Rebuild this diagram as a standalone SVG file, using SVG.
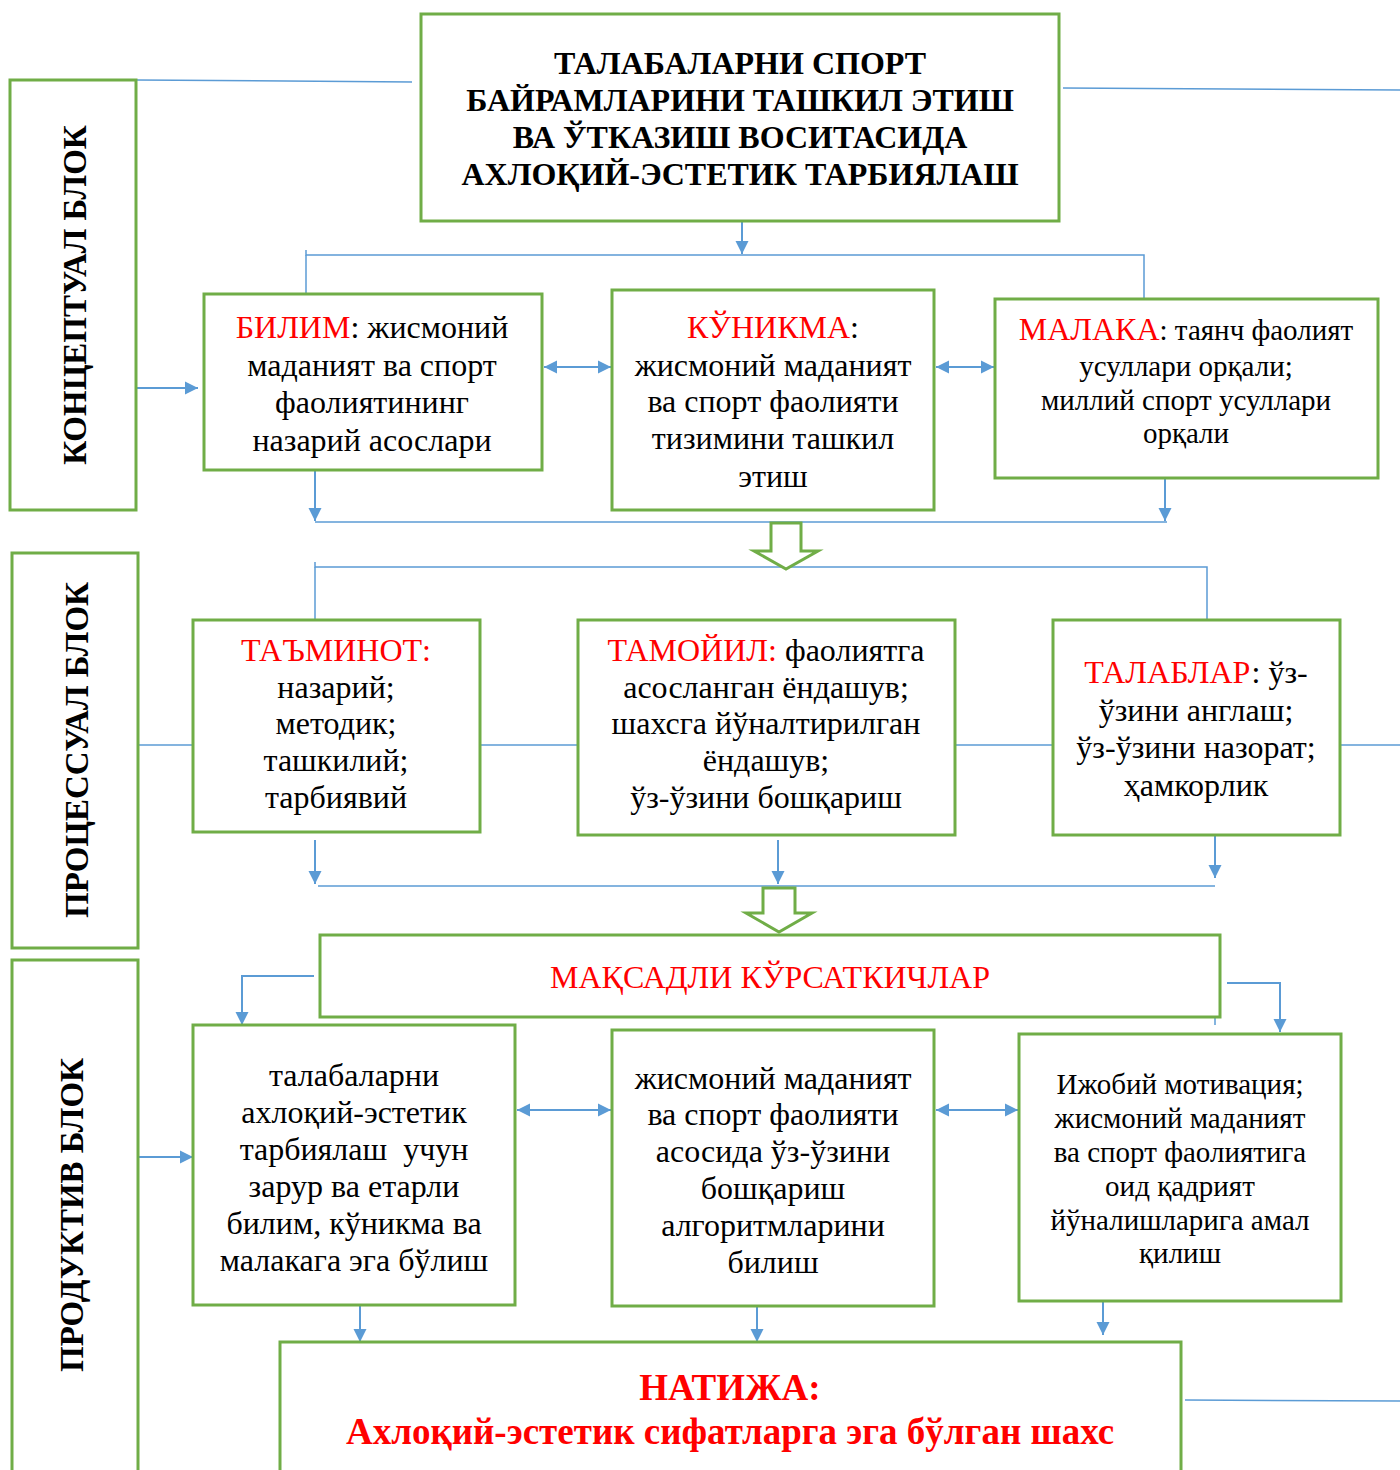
<svg xmlns="http://www.w3.org/2000/svg" width="1400" height="1470" viewBox="0 0 1400 1470">
<style>
.box{fill:#fff;stroke:#70AD47;stroke-width:3}
.ln{fill:none;stroke:#5B9BD5;stroke-width:1.5}
.ar{fill:none;stroke:#5B9BD5;stroke-width:2}
.hol{fill:#fff;stroke:#70AD47;stroke-width:3;stroke-linejoin:miter}
text{font-family:"Liberation Serif","Times New Roman",serif;fill:#000;text-anchor:middle}
.t{font-size:32px}
.s{font-size:29px}
.b{font-weight:bold}
.r{fill:#FF0000}
.v{font-size:33px;font-weight:bold}
</style>
<defs>
<marker id="ah" viewBox="0 0 10 10" refX="10" refY="5" markerWidth="13" markerHeight="14" markerUnits="userSpaceOnUse" orient="auto-start-reverse">
<path d="M0,0 L10,5 L0,10 z" fill="#5B9BD5"/>
</marker>
</defs>

<g id="connectors">
<line class="ln" x1="136" y1="80" x2="412" y2="82"/>
<line class="ln" x1="1063" y1="88" x2="1400" y2="90"/>
<line class="ar" x1="742" y1="222" x2="742" y2="254" marker-end="url(#ah)"/>
<polyline class="ln" points="306,250 306,255 1144,255 1144,298"/>
<line class="ln" x1="306" y1="255" x2="306" y2="294"/>
<line class="ar" x1="137" y1="388" x2="198" y2="388" marker-end="url(#ah)"/>
<line class="ar" x1="544" y1="367" x2="611" y2="367" marker-start="url(#ah)" marker-end="url(#ah)"/>
<line class="ar" x1="936" y1="367" x2="994" y2="367" marker-start="url(#ah)" marker-end="url(#ah)"/>
<line class="ar" x1="315" y1="471" x2="315" y2="521" marker-end="url(#ah)"/>
<line class="ar" x1="1165" y1="479" x2="1165" y2="521" marker-end="url(#ah)"/>
<line class="ln" x1="315" y1="522" x2="1167" y2="522"/>
<polyline class="ln" points="315,562 315,567 1207,567 1207,620"/>
<line class="ln" x1="315" y1="567" x2="315" y2="620"/>
<line class="ln" x1="138" y1="745" x2="193" y2="745"/>
<line class="ln" x1="480" y1="745" x2="578" y2="745"/>
<line class="ln" x1="955" y1="745" x2="1053" y2="745"/>
<line class="ln" x1="1340" y1="745" x2="1400" y2="745"/>
<line class="ar" x1="315" y1="840" x2="315" y2="884" marker-end="url(#ah)"/>
<line class="ar" x1="778" y1="840" x2="778" y2="884" marker-end="url(#ah)"/>
<line class="ar" x1="1215" y1="836" x2="1215" y2="878" marker-end="url(#ah)"/>
<line class="ln" x1="318" y1="886" x2="1215" y2="886"/>
<polyline class="ar" points="314,976 242,976 242,1025" marker-end="url(#ah)"/>
<polyline class="ar" points="1227,983 1280,983 1280,1032" marker-end="url(#ah)"/>
<line class="ln" x1="1215" y1="1018" x2="1215" y2="1025"/>
<line class="ar" x1="139" y1="1157" x2="193" y2="1157" marker-end="url(#ah)"/>
<line class="ar" x1="517" y1="1110" x2="611" y2="1110" marker-start="url(#ah)" marker-end="url(#ah)"/>
<line class="ar" x1="936" y1="1110" x2="1018" y2="1110" marker-start="url(#ah)" marker-end="url(#ah)"/>
<line class="ar" x1="360" y1="1306" x2="360" y2="1342" marker-end="url(#ah)"/>
<line class="ar" x1="757" y1="1307" x2="757" y2="1342" marker-end="url(#ah)"/>
<line class="ar" x1="1103" y1="1302" x2="1103" y2="1335" marker-end="url(#ah)"/>
<line class="ln" x1="1185" y1="1400" x2="1400" y2="1401"/>
<polygon class="hol" points="771,523 801,523 801,551 818,551 786,569 754,551 771,551"/>
<polygon class="hol" points="763,888 795,888 795,913 812,913 779,932 746,913 763,913"/>
</g>

<g id="block-concept">
<rect class="box" x="10" y="80" width="126" height="430"/>
<text class="v" transform="translate(86,295) rotate(-90)">КОНЦЕПТУАЛ БЛОК</text>
</g>
<g id="block-process">
<rect class="box" x="12" y="553" width="126" height="395"/>
<text class="v" transform="translate(88,750) rotate(-90)">ПРОЦЕССУАЛ БЛОК</text>
</g>
<g id="block-product">
<rect class="box" x="12" y="960" width="126" height="520"/>
<text class="v" transform="translate(83,1215) rotate(-90)">ПРОДУКТИВ БЛОК</text>
</g>

<g id="title">
<rect class="box" x="421" y="14" width="638" height="207"/>
<text class="b" font-size="32"><tspan x="740" y="74">ТАЛАБАЛАРНИ СПОРТ</tspan><tspan x="740" y="111">БАЙРАМЛАРИНИ ТАШКИЛ ЭТИШ</tspan><tspan x="740" y="148">ВА ЎТКАЗИШ ВОСИТАСИДА</tspan><tspan x="740" y="185">АХЛОҚИЙ-ЭСТЕТИК ТАРБИЯЛАШ</tspan></text>
</g>

<g id="bilim">
<rect class="box" x="204" y="294" width="338" height="176"/>
<text class="t"><tspan x="372" y="338"><tspan class="r">БИЛИМ</tspan>: жисмоний</tspan><tspan x="372" y="376">маданият ва спорт</tspan><tspan x="372" y="413">фаолиятининг</tspan><tspan x="372" y="451">назарий асослари</tspan></text>
</g>
<g id="konikma">
<rect class="box" x="612" y="290" width="322" height="220"/>
<text class="t"><tspan x="773" y="338"><tspan class="r">КЎНИКМА</tspan>:</tspan><tspan x="773" y="376">жисмоний маданият</tspan><tspan x="773" y="412">ва спорт фаолияти</tspan><tspan x="773" y="449">тизимини ташкил</tspan><tspan x="773" y="487">этиш</tspan></text>
</g>
<g id="malaka">
<rect class="box" x="995" y="299" width="383" height="179"/>
<text class="s"><tspan x="1186" y="340"><tspan class="r" font-size="32">МАЛАКА</tspan>: таянч фаолият</tspan><tspan x="1186" y="376">усуллари орқали;</tspan><tspan x="1186" y="410">миллий спорт усуллари</tspan><tspan x="1186" y="443">орқали</tspan></text>
</g>

<g id="taminot">
<rect class="box" x="193" y="620" width="287" height="212"/>
<text class="t"><tspan class="r" x="336" y="661">ТАЪМИНОТ:</tspan><tspan x="336" y="698">назарий;</tspan><tspan x="336" y="734">методик;</tspan><tspan x="336" y="771">ташкилий;</tspan><tspan x="336" y="808">тарбиявий</tspan></text>
</g>
<g id="tamoyil">
<rect class="box" x="578" y="620" width="377" height="215"/>
<text class="t"><tspan x="766" y="661"><tspan class="r">ТАМОЙИЛ:</tspan> фаолиятга</tspan><tspan x="766" y="698">асосланган ёндашув;</tspan><tspan x="766" y="734">шахсга йўналтирилган</tspan><tspan x="766" y="771">ёндашув;</tspan><tspan x="766" y="808">ўз-ўзини бошқариш</tspan></text>
</g>
<g id="talablar">
<rect class="box" x="1053" y="620" width="287" height="215"/>
<text class="t"><tspan x="1196" y="683"><tspan class="r">ТАЛАБЛАР</tspan>: ўз-</tspan><tspan x="1196" y="721">ўзини англаш;</tspan><tspan x="1196" y="758">ўз-ўзини назорат;</tspan><tspan x="1196" y="796">ҳамкорлик</tspan></text>
</g>

<g id="maqsadli">
<rect class="box" x="320" y="935" width="900" height="82"/>
<text class="t r" x="770" y="988">МАҚСАДЛИ КЎРСАТКИЧЛАР</text>
</g>

<g id="result-a">
<rect class="box" x="193" y="1025" width="322" height="280"/>
<text class="t"><tspan x="354" y="1086">талабаларни</tspan><tspan x="354" y="1123">ахлоқий-эстетик</tspan><tspan x="354" y="1160" xml:space="preserve">тарбиялаш  учун</tspan><tspan x="354" y="1197">зарур ва етарли</tspan><tspan x="354" y="1234">билим, кўникма ва</tspan><tspan x="354" y="1271">малакага эга бўлиш</tspan></text>
</g>
<g id="result-b">
<rect class="box" x="612" y="1030" width="322" height="276"/>
<text class="t"><tspan x="773" y="1089">жисмоний маданият</tspan><tspan x="773" y="1125">ва спорт фаолияти</tspan><tspan x="773" y="1162">асосида ўз-ўзини</tspan><tspan x="773" y="1199">бошқариш</tspan><tspan x="773" y="1236">алгоритмларини</tspan><tspan x="773" y="1273">билиш</tspan></text>
</g>
<g id="result-c">
<rect class="box" x="1019" y="1034" width="322" height="267"/>
<text class="s"><tspan x="1180" y="1094">Ижобий мотивация;</tspan><tspan x="1180" y="1128">жисмоний маданият</tspan><tspan x="1180" y="1162">ва спорт фаолиятига</tspan><tspan x="1180" y="1196">оид қадрият</tspan><tspan x="1180" y="1230">йўналишларига амал</tspan><tspan x="1180" y="1263">қилиш</tspan></text>
</g>

<g id="natija">
<rect class="box" x="280" y="1342" width="901" height="140"/>
<text class="b r" font-size="37"><tspan x="730" y="1400">НАТИЖА:</tspan><tspan x="730" y="1444">Ахлоқий-эстетик сифатларга эга бўлган шахс</tspan></text>
</g>
</svg>
